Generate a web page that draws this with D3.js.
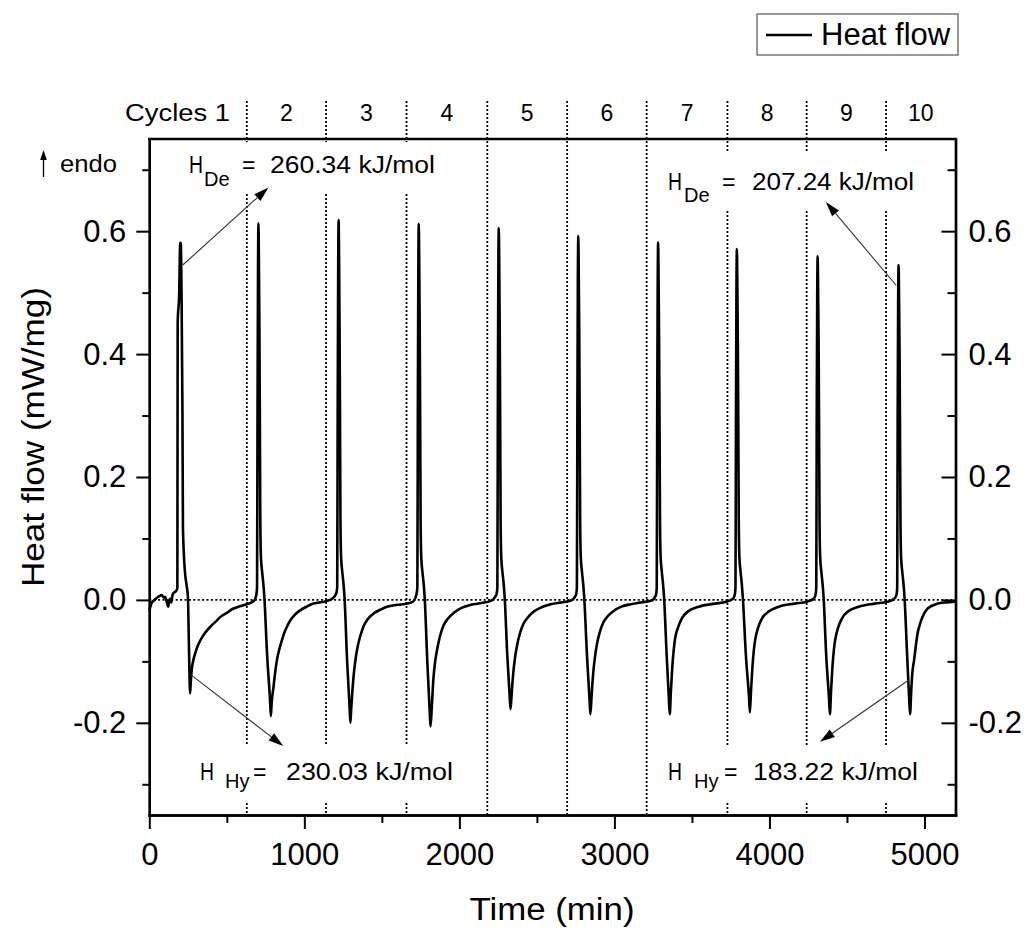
<!DOCTYPE html>
<html><head><meta charset="utf-8">
<script src="https://cdn.jsdelivr.net/npm/d3@7"></script>
<style>
body{margin:0;background:#fff}
svg{display:block}
text{font-family:"Liberation Sans",Arial,sans-serif;fill:#000}
</style>
</head><body><div id="chart"></div>
<script>
// ---------------- DATA ----------------
const cycleLabels = ["Cycles 1","2","3","4","5","6","7","8","9","10"];
const cycleBoundaries = [629,1140,1659,2180,2695,3208,3729,4240,4752];
const xTicks = [0,1000,2000,3000,4000,5000];
const xMinorTicks = [500,1500,2500,3500,4500];
const yTicks = [-0.2,0,0.2,0.4,0.6];
const yMinorTicks = [-0.3,-0.1,0.1,0.3,0.5,0.7];
const seriesName = "Heat flow";

const cycle1 = [[0,-0.017],[8,-0.01],[15,-0.005],[30,-0.001],[48,0.003],[65,0.006],[80,0.008],[92,0.004],[101,0.005],[112,-0.003],[123,-0.011],[128,-0.002],[134,0.002],[142,-0.004],[148,0.006],[155,0.011],[166,0.013],[177,0.016],[181,0.02],[183,0.45],[193,0.5],[199,0.58],[203,0.581],[208,0.5],[214,0.3],[217,0.12],[222,0.08],[230,0.045],[240,0.025],[249,0.005],[256,-0.08],[263,-0.152],[267,-0.135],[274,-0.113],[285,-0.097],[296,-0.087],[306,-0.079],[325,-0.068],[345,-0.059],[371,-0.05],[400,-0.042],[430,-0.035],[457,-0.028],[500,-0.021],[543,-0.014],[590,-0.01],[629,-0.007],[660,-0.004],[680,0.0],[690,0.008]];
const cycle2 = [[695,0.02],[698,0.3],[701,0.52],[704,0.613],[707,0.55],[710,0.45],[713,0.3],[716,0.13],[720,0.07],[728,0.045],[736,0.025],[742,0.005],[760,-0.09],[778,-0.16],[784,-0.189],[790,-0.165],[801,-0.142],[812,-0.118],[823,-0.098],[838,-0.081],[855,-0.066],[870,-0.054],[887,-0.044],[910,-0.033],[935,-0.025],[973,-0.017],[1015,-0.011],[1059,-0.006],[1100,-0.004],[1140,-0.002],[1180,0.002],[1205,0.01]];
const cycle3 = [[1212,0.02],[1215,0.3],[1218,0.52],[1221,0.618],[1224,0.56],[1227,0.45],[1230,0.3],[1233,0.13],[1237,0.07],[1245,0.045],[1253,0.025],[1259,0.005],[1276,-0.1],[1291,-0.17],[1297,-0.2],[1302,-0.178],[1310,-0.148],[1320,-0.118],[1330,-0.097],[1340,-0.081],[1355,-0.064],[1368,-0.053],[1382,-0.043],[1410,-0.031],[1447,-0.022],[1490,-0.016],[1533,-0.011],[1600,-0.008],[1663,-0.006],[1700,-0.003],[1722,0.008]];
const cycle4 = [[1729,0.02],[1732,0.3],[1735,0.52],[1738,0.612],[1741,0.55],[1744,0.45],[1747,0.3],[1750,0.13],[1754,0.07],[1762,0.045],[1770,0.025],[1776,0.005],[1793,-0.1],[1808,-0.178],[1814,-0.206],[1822,-0.175],[1832,-0.13],[1844,-0.1],[1857,-0.08],[1874,-0.06],[1899,-0.041],[1924,-0.031],[1964,-0.021],[2014,-0.013],[2074,-0.008],[2144,-0.005],[2200,-0.002],[2238,0.008]];
const cycle5 = [[2245,0.02],[2248,0.3],[2251,0.52],[2254,0.605],[2257,0.55],[2260,0.45],[2263,0.3],[2266,0.13],[2270,0.07],[2278,0.045],[2286,0.025],[2292,0.005],[2309,-0.09],[2324,-0.155],[2330,-0.178],[2338,-0.15],[2348,-0.118],[2360,-0.092],[2373,-0.073],[2390,-0.055],[2415,-0.038],[2440,-0.029],[2480,-0.019],[2530,-0.012],[2590,-0.007],[2660,-0.004],[2720,-0.001],[2752,0.008]];
const cycle6 = [[2758,0.02],[2761,0.3],[2764,0.51],[2767,0.592],[2770,0.53],[2773,0.44],[2776,0.3],[2779,0.13],[2783,0.07],[2791,0.045],[2799,0.025],[2805,0.005],[2823,-0.09],[2839,-0.16],[2845,-0.186],[2853,-0.155],[2863,-0.12],[2875,-0.092],[2888,-0.071],[2905,-0.053],[2930,-0.036],[2955,-0.027],[2995,-0.018],[3045,-0.011],[3105,-0.007],[3175,-0.004],[3240,-0.001],[3268,0.008]];
const cycle7 = [[3273,0.02],[3276,0.3],[3279,0.5],[3282,0.582],[3285,0.52],[3288,0.43],[3291,0.29],[3294,0.13],[3298,0.07],[3306,0.045],[3314,0.025],[3320,0.005],[3337,-0.09],[3351,-0.16],[3357,-0.186],[3364,-0.15],[3373,-0.11],[3383,-0.08],[3392,-0.062],[3410,-0.045],[3435,-0.03],[3478,-0.018],[3543,-0.011],[3651,-0.006],[3720,-0.003],[3765,0.002],[3776,0.008]];
const cycle8 = [[3781,0.02],[3784,0.3],[3787,0.5],[3790,0.571],[3793,0.51],[3796,0.42],[3799,0.29],[3802,0.13],[3806,0.07],[3814,0.045],[3822,0.025],[3828,0.005],[3848,-0.09],[3868,-0.158],[3874,-0.183],[3881,-0.148],[3890,-0.11],[3900,-0.08],[3910,-0.062],[3927,-0.045],[3952,-0.03],[3995,-0.019],[4060,-0.011],[4165,-0.006],[4240,-0.003],[4285,0.002],[4297,0.008]];
const cycle9 = [[4302,0.02],[4305,0.3],[4308,0.49],[4311,0.559],[4314,0.5],[4317,0.42],[4320,0.29],[4323,0.13],[4327,0.07],[4335,0.045],[4343,0.025],[4349,0.005],[4366,-0.09],[4384,-0.16],[4390,-0.186],[4397,-0.15],[4406,-0.11],[4416,-0.08],[4426,-0.062],[4443,-0.045],[4468,-0.03],[4511,-0.018],[4576,-0.011],[4680,-0.006],[4760,-0.003],[4805,0.002],[4819,0.008]];
const cycle10 = [[4824,0.02],[4827,0.3],[4830,0.48],[4833,0.545],[4836,0.49],[4839,0.41],[4842,0.28],[4845,0.13],[4849,0.07],[4857,0.045],[4865,0.025],[4871,0.005],[4888,-0.09],[4901,-0.16],[4907,-0.186],[4914,-0.15],[4922,-0.118],[4933,-0.098],[4944,-0.075],[4955,-0.055],[4970,-0.04],[4987,-0.028],[5020,-0.014],[5085,-0.006],[5140,-0.004],[5190,-0.003],[5200,-0.002]];

// enthalpy annotation arrows: [from point on curve] -> [toward label]
const arrowFrom = [[216,0.545],[4817,0.512],[269,-0.122],[4901,-0.130]];
const arrowTo   = [[769,0.671],[4364,0.6475],[864,-0.2377],[4326,-0.231]];
const enthalpyValues = ["260.34 kJ/mol","207.24 kJ/mol","230.03 kJ/mol","183.22 kJ/mol"];
const enthalpySubs = ["De","De","Hy","Hy"];

// ---------------- LAYOUT ----------------
const W = 1030, H = 930;
const M = {left:149.3, right:955.5, top:139, bottom:815};
const x = d3.scaleLinear().domain([0,5200]).range([M.left, M.right]);
const y = d3.scaleLinear().domain([-0.35,0.75]).range([M.bottom, M.top]);

const svg = d3.select("#chart").append("svg").attr("width",W).attr("height",H);
svg.append("rect").attr("width",W).attr("height",H).attr("fill","#fff");

// zero dotted line
svg.append("line").attr("x1",x(0)).attr("x2",x(5200)).attr("y1",y(0)).attr("y2",y(0))
  .attr("stroke","#000").attr("stroke-width",1.8).attr("stroke-dasharray","2,2.4");

// cycle boundary dotted lines (with gaps around text)
const gapsA = [[101,142],[194,746],[803,815]];
const gapsB = [[101,815]];
const gapsC = [[101,153],[211,746],[803,815]];
cycleBoundaries.forEach((b,i)=>{
  const segs = i<3 ? gapsA : (i<6 ? gapsB : gapsC);
  segs.forEach(s=>{
    svg.append("line").attr("x1",x(b)).attr("x2",x(b)).attr("y1",s[0]).attr("y2",s[1])
      .attr("stroke","#000").attr("stroke-width",1.8).attr("stroke-dasharray","2,2");
  });
});

// data line
const allData = [].concat(cycle1,cycle2,cycle3,cycle4,cycle5,cycle6,cycle7,cycle8,cycle9,cycle10);
const line = d3.line().x(d=>x(d[0])).y(d=>y(d[1])).curve(d3.curveMonotoneX);
svg.append("path").datum(allData).attr("d",line).attr("fill","none")
  .attr("stroke","#000").attr("stroke-width",2.6).attr("stroke-linejoin","round");

// axes
function styleAxis(g, fs){
  g.selectAll("path.domain").attr("stroke","#000").attr("stroke-width",2.4).attr("stroke-linecap","square");
  g.selectAll(".tick line").attr("stroke","#000").attr("stroke-width",2);
  g.selectAll("text").attr("font-size",fs).attr("font-family","'Liberation Sans',Arial,sans-serif").attr("fill","#000");
  g.attr("font-family",null).attr("font-size",null);
}
const fmtY = d => d.toFixed(1);

const gxMinor = svg.append("g").attr("transform",`translate(0,${M.bottom})`)
  .call(d3.axisBottom(x).tickValues(xMinorTicks).tickSize(8).tickSizeOuter(0).tickFormat(""));
styleAxis(gxMinor,0);
const gx = svg.append("g").attr("transform",`translate(0,${M.bottom})`)
  .call(d3.axisBottom(x).tickValues(xTicks).tickSize(14).tickSizeOuter(0).tickPadding(14).tickFormat(d3.format("d")));
styleAxis(gx,31);

const gyMinor = svg.append("g").attr("transform",`translate(${M.left},0)`)
  .call(d3.axisLeft(y).tickValues(yMinorTicks).tickSize(7).tickSizeOuter(0).tickFormat(""));
styleAxis(gyMinor,0);
const gy = svg.append("g").attr("transform",`translate(${M.left},0)`)
  .call(d3.axisLeft(y).tickValues(yTicks).tickSize(13).tickSizeOuter(0).tickPadding(10).tickFormat(fmtY));
styleAxis(gy,31);

const gyrMinor = svg.append("g").attr("transform",`translate(${M.right},0)`)
  .call(d3.axisRight(y).tickValues(yMinorTicks).tickSize(-8).tickSizeOuter(0).tickFormat(""));
styleAxis(gyrMinor,0);
const gyr = svg.append("g").attr("transform",`translate(${M.right},0)`)
  .call(d3.axisRight(y).tickValues(yTicks).tickSize(-14).tickSizeOuter(0).tickPadding(13).tickFormat(fmtY));
styleAxis(gyr,31);

// top frame
svg.append("line").attr("x1",M.left).attr("x2",M.right).attr("y1",M.top).attr("y2",M.top)
  .attr("stroke","#000").attr("stroke-width",2.4).attr("stroke-linecap","square");

// axis titles
svg.append("text").attr("x",552).attr("y",920).attr("text-anchor","middle")
  .attr("font-size",31).attr("textLength",165).attr("lengthAdjust","spacingAndGlyphs").text("Time (min)");
svg.append("text").attr("transform","translate(44,437) rotate(-90)").attr("text-anchor","middle")
  .attr("font-size",31).attr("textLength",300).attr("lengthAdjust","spacingAndGlyphs").text("Heat flow (mW/mg)");

// cycle labels
const bpx = [M.left].concat(cycleBoundaries.map(b=>x(b))).concat([M.right]);
cycleLabels.forEach((lab,i)=>{
  if(i===0){
    svg.append("text").attr("x",230).attr("y",121).attr("text-anchor","end").attr("font-size",23)
      .attr("textLength",105).attr("lengthAdjust","spacingAndGlyphs").text(lab);
  } else {
    svg.append("text").attr("x",(bpx[i]+bpx[i+1])/2).attr("y",121).attr("text-anchor","middle")
      .attr("font-size",23).text(lab);
  }
});

// endo marker
svg.append("line").attr("x1",43.5).attr("x2",43.5).attr("y1",177).attr("y2",158).attr("stroke","#000").attr("stroke-width",1.3);
svg.append("path").attr("d","M43.5,150 L40.2,160 L46.8,160 Z").attr("fill","#000");
svg.append("text").attr("x",60).attr("y",172).attr("font-size",23).attr("textLength",57)
  .attr("lengthAdjust","spacingAndGlyphs").text("endo");

// arrows
arrowFrom.forEach((f,i)=>{
  const t = arrowTo[i];
  const x1=x(f[0]), y1=y(f[1]), x2=x(t[0]), y2=y(t[1]);
  const dx=x2-x1, dy=y2-y1, L=Math.hypot(dx,dy), ux=dx/L, uy=dy/L;
  const hl=15, hw=4.5;
  const bx=x2-ux*hl, by=y2-uy*hl;
  svg.append("line").attr("x1",x1).attr("y1",y1).attr("x2",bx).attr("y2",by)
    .attr("stroke","#333").attr("stroke-width",1.1);
  svg.append("path").attr("d",`M${x2},${y2} L${bx-uy*hw},${by+ux*hw} L${bx+uy*hw},${by-ux*hw} Z`).attr("fill","#000");
});

// enthalpy labels
const labelLayout = [
  {hx:189, y:173, sx:204, sy:186, ex:242, vx:270, vw:165},
  {hx:668, y:190, sx:684, sy:202, ex:722, vx:752, vw:162},
  {hx:200, y:780, sx:225, sy:788, ex:253, vx:286, vw:167},
  {hx:668, y:780, sx:694, sy:788, ex:724, vx:753, vw:165}
];
labelLayout.forEach((p,i)=>{
  svg.append("text").attr("x",p.hx).attr("y",p.y).attr("font-size",23)
    .attr("textLength",14).attr("lengthAdjust","spacingAndGlyphs").text("H");
  svg.append("text").attr("x",p.sx).attr("y",p.sy).attr("font-size",20).text(enthalpySubs[i]);
  svg.append("text").attr("x",p.ex).attr("y",p.y).attr("font-size",23).text("=");
  svg.append("text").attr("x",p.vx).attr("y",p.y).attr("font-size",23)
    .attr("textLength",p.vw).attr("lengthAdjust","spacingAndGlyphs").text(enthalpyValues[i]);
});

// legend
svg.append("rect").attr("x",757).attr("y",14).attr("width",201).attr("height",41)
  .attr("fill","#fff").attr("stroke","#555").attr("stroke-width",1.2);
svg.append("line").attr("x1",766).attr("x2",812).attr("y1",35).attr("y2",35).attr("stroke","#000").attr("stroke-width",2.6);
svg.append("text").attr("x",821).attr("y",45).attr("font-size",31).text(seriesName);
</script>
</body></html>
